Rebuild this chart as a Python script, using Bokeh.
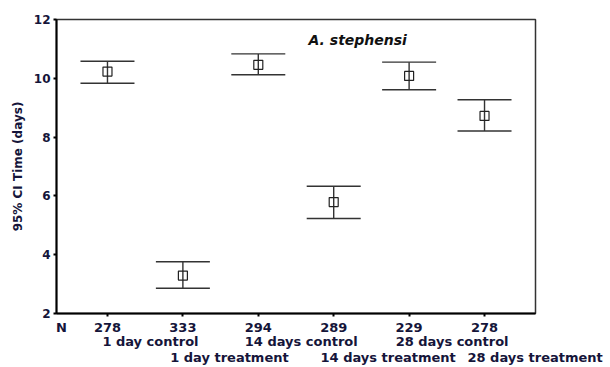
from bokeh.plotting import figure
from bokeh.models import (ColumnDataSource, Whisker, TeeHead, Label, FixedTicker,
                          Range1d, LinearAxis)
from bokeh.embed import file_html
from bokeh.resources import INLINE

groups = ["1 day control", "1 day treatment", "14 days control",
          "14 days treatment", "28 days control", "28 days treatment"]
n_counts = [278, 333, 294, 289, 229, 278]
means = [10.23, 3.29, 10.46, 5.79, 10.08, 8.72]
lower = [9.83, 2.86, 10.12, 5.23, 9.61, 8.21]
upper = [10.58, 3.76, 10.83, 6.33, 10.55, 9.27]
y_ticks = [2, 4, 6, 8, 10, 12]

pos = list(range(1, len(groups) + 1))
src = ColumnDataSource(dict(x=pos, mean=means, lower=lower, upper=upper))

FONT = "DejaVu Sans"
TXT = "#15153a"

X0, X1 = 0.324, 6.676
N_POS = 0.39

p = figure(width=610, height=367, output_backend="svg", toolbar_location=None,
           x_range=Range1d(X0, X1), y_range=Range1d(2, 12),
           min_border_left=56, min_border_top=19, min_border_right=75,
           min_border_bottom=54)
p.grid.visible = False
p.outline_line_color = "#333333"
p.outline_line_width = 1.5

p.yaxis.ticker = FixedTicker(ticks=y_ticks)
p.yaxis.axis_label = "95% CI Time (days)"
p.yaxis.axis_label_text_font = FONT
p.yaxis.axis_label_text_font_style = "bold"
p.yaxis.axis_label_text_font_size = "12px"
p.yaxis.axis_label_text_color = TXT
p.yaxis.axis_label_standoff = 6
p.yaxis.major_label_text_font = FONT
p.yaxis.major_label_text_font_style = "bold"
p.yaxis.major_label_text_font_size = "12px"
p.yaxis.major_label_text_color = TXT
p.yaxis.major_label_standoff = 3
p.yaxis.axis_line_width = 2
p.yaxis.axis_line_color = "black"
p.yaxis.major_tick_line_width = 2
p.yaxis.major_tick_line_color = "black"
p.yaxis.major_tick_out = 3
p.yaxis.major_tick_in = 0
p.yaxis.minor_tick_line_color = None

# main x axis: labels N + counts, tick marks only at the categories (minor ticks)
xa = p.xaxis[0]
xa.ticker = FixedTicker(ticks=[N_POS] + pos, minor_ticks=pos)
overrides = {N_POS: "N"}
overrides.update({i: str(v) for i, v in zip(pos, n_counts)})
xa.major_label_overrides = overrides
xa.major_label_text_font = FONT
xa.major_label_text_font_style = "bold"
xa.major_label_text_font_size = "13px"
xa.major_label_text_color = TXT
xa.major_label_standoff = 3
xa.axis_line_width = 2
xa.axis_line_color = "black"
xa.major_tick_line_color = None
xa.major_tick_out = 3
xa.major_tick_in = 0
xa.minor_tick_line_color = "black"
xa.minor_tick_line_width = 2
xa.minor_tick_out = 3
xa.minor_tick_in = 0

def text_axis(ticks, labels, standoff=0):
    ax = LinearAxis(ticker=FixedTicker(ticks=ticks),
                    major_label_overrides=dict(zip(ticks, labels)),
                    axis_line_color=None, major_tick_line_color=None,
                    minor_tick_line_color=None, major_tick_out=0,
                    major_tick_in=0, major_label_standoff=standoff,
                    major_label_text_font=FONT, major_label_text_font_style="bold",
                    major_label_text_font_size="13px",
                    major_label_text_color=TXT)
    p.add_layout(ax, "below")

# control groups centred just right of their count
ctrl = [groups[i] for i in range(0, 6, 2)]
text_axis([pos[i] + 0.57 for i in range(0, 6, 2)], ctrl, standoff=-4)

# treatment groups: left edge a little left of their count (kept inside the frame span)
CHAR = 0.105
trt_idx = list(range(1, 6, 2))
trt = [groups[i] for i in trt_idx]
trt_ticks = [min(pos[i] - 0.17 + len(groups[i]) * CHAR / 2, X1 - 0.005)
             for i in trt_idx]
text_axis(trt_ticks, trt, standoff=-2)

whisk = Whisker(source=src, base="x", upper="upper", lower="lower",
                line_color="#333333", line_width=1.4,
                upper_head=TeeHead(size=54, line_color="#333333", line_width=1.4),
                lower_head=TeeHead(size=54, line_color="#333333", line_width=1.4))
p.add_layout(whisk)
p.scatter("x", "mean", source=src, marker="square", size=9,
          fill_color=None, line_color="#222222", line_width=1.2)

p.add_layout(Label(x=3.666, y=11.29, text="A. stephensi", text_align="left",
                   text_baseline="middle", text_font=FONT,
                   text_font_style="bold italic", text_font_size="14px",
                   text_color="#111111"))

open("out.html", "w").write(file_html(p, INLINE))
